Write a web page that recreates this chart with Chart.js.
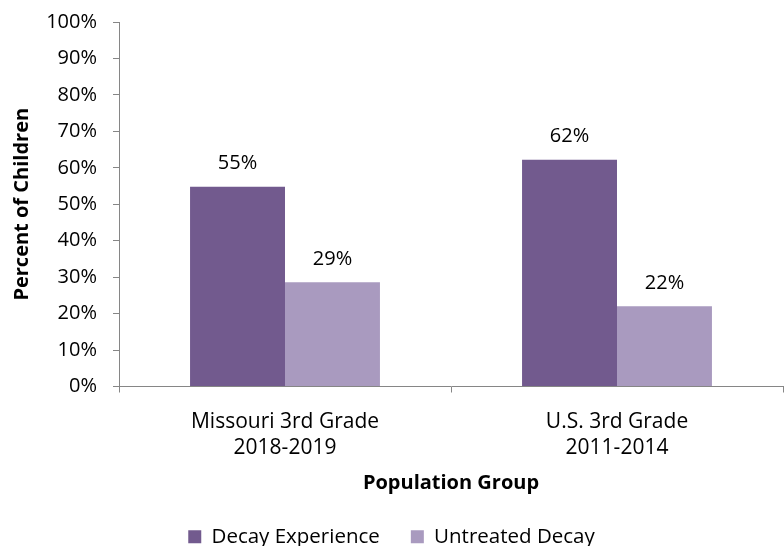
<!DOCTYPE html>
<html><head><meta charset="utf-8">
<script src="https://cdn.jsdelivr.net/npm/chart.js@4.4.0/dist/chart.umd.min.js"></script>
<style>html,body{margin:0;padding:0;background:#fff}#wrap{width:784px;height:546px}</style>
</head><body><div id="wrap"><canvas id="c" width="784" height="546"></canvas></div>
<script>
const categories = [["Missouri 3rd Grade","2018-2019"],["U.S. 3rd Grade","2011-2014"]];
const seriesNames = ["Decay Experience","Untreated Decay"];
const decayExperience = [54.8, 62.2];
const untreatedDecay = [28.6, 22.0];
const seriesColors = ["#725A8E","#A99ABF"];
const yAxisTitle = "Percent of Children";
const xAxisTitle = "Population Group";

const FONT = "'Open Sans', sans-serif";
const AXIS = "#868686";

const labelPlugin = {
  id: 'barLabels',
  afterDatasetsDraw(chart) {
    const ctx = chart.ctx;
    ctx.save();
    ctx.font = "20px " + FONT;
    ctx.fillStyle = "#000";
    ctx.textAlign = "center";
    ctx.textBaseline = "middle";
    chart.data.datasets.forEach((ds, i) => {
      chart.getDatasetMeta(i).data.forEach((bar, j) => {
        ctx.fillText(Math.round(ds.data[j]) + "%", bar.x, bar.y - 23);
      });
    });
    ctx.restore();
  }
};

new Chart(document.getElementById('c'), {
  type: 'bar',
  data: {
    labels: categories,
    datasets: [
      { label: seriesNames[0], data: decayExperience, backgroundColor: seriesColors[0] },
      { label: seriesNames[1], data: untreatedDecay, backgroundColor: seriesColors[1] }
    ]
  },
  options: {
    responsive: false,
    animation: false,
    layout: { padding: { top: 22, right: 1, left: 0, bottom: -11 } },
    datasets: { bar: { categoryPercentage: 0.572, barPercentage: 1.0 } },
    plugins: {
      legend: {
        position: 'bottom',
        labels: { color: "#000", font: { family: FONT, size: 20.5 }, boxWidth: 13, boxHeight: 13, padding: 31 }
      },
      tooltip: { enabled: false }
    },
    scales: {
      x: {
        afterFit(scale) { scale.height = 109; scale.paddingLeft = 0; scale.paddingRight = 0; },
        grid: { display: true, drawOnChartArea: false, drawTicks: true, tickLength: 6, offset: true, color: AXIS },
        border: { color: AXIS, width: 1 },
        ticks: { color: "#000", font: { family: FONT, size: 21, lineHeight: 1.25 }, padding: 16, maxRotation: 0 },
        title: { display: true, text: xAxisTitle, color: "#000", font: { family: FONT, size: 20, weight: 'bold' }, padding: { top: 0, bottom: 0 } }
      },
      y: {
        min: 0, max: 100,
        afterFit(scale) { scale.width = 119; scale.paddingTop = 0; scale.paddingBottom = 0; },
        grid: { display: true, drawOnChartArea: false, drawTicks: true, tickLength: 6, color: AXIS },
        border: { color: AXIS, width: 1 },
        ticks: { stepSize: 10, color: "#000", font: { family: FONT, size: 20 }, padding: 16, callback: v => v + "%" },
        title: { display: true, text: yAxisTitle, color: "#000", font: { family: FONT, size: 20, weight: 'bold' }, padding: { top: 10, bottom: 0 } }
      }
    }
  },
  plugins: [labelPlugin]
});
</script>
</body></html>
